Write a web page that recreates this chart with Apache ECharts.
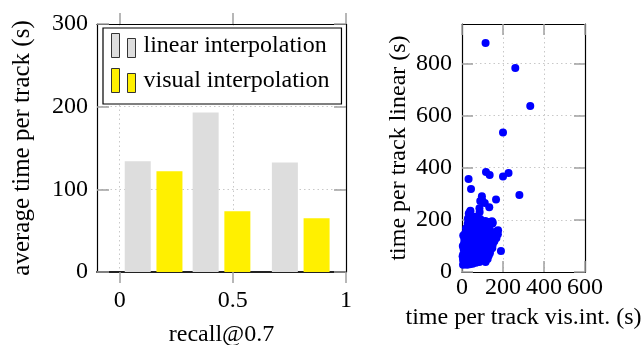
<!DOCTYPE html>
<html>
<head>
<meta charset="utf-8">
<script src="https://cdn.jsdelivr.net/npm/echarts@6/dist/echarts.min.js"></script>
<style>
html,body{margin:0;padding:0;background:#fff;}
#c{width:644px;height:345px;}
</style>
</head>
<body>
<div id="c"></div>
<script>
// ---- data ----
const groupX = [0.15, 0.45, 0.80];
const linearTimes = [134, 193, 132.5];
const visualTimes = [122, 73.5, 65];
const barXTicks = [0, 0.5, 1];
const barYTicks = [0, 100, 200, 300];
const scatterXTicks = [0, 200, 400, 600];
const scatterYTicks = [0, 200, 400, 600, 800];
const seriesNames = ['linear interpolation', 'visual interpolation'];
// scatter: [time per track vis.int., time per track linear]
const scatterVisInt = [
 115,260,333,200,32,44,117,135,200,227,280,166,97,89,111,85,133,41,190,115,
 5,10,15,20,25,30,38,45,52,60,68,75,85,8,18,28,
 5,12,22,32,42,50,58,66,78,88,96,105,120,130,
 6,14,24,34,44,54,62,72,82,92,100,110,122,136,140,
 8,18,28,38,48,58,68,78,90,102,114,126,138,148,
 10,20,30,40,52,64,74,86,96,108,120,132,146,158,
 12,24,36,48,60,72,84,98,110,124,138,152,168,
 15,26,38,50,62,76,90,104,118,134,150,164,175,
 20,32,46,58,72,86,100,116,132,148,150,163,176,
 28,40,55,68,80,96,112,130,146,114,
 29,33,41,36,49,73,78,89,60,40,98,86,
 3,4,6,12,105,125,150,155
];
const scatterLinear = [
 878,782,637,535,357,318,383,372,366,380,295,278,290,272,265,244,248,235,81,38,
 28,32,30,35,28,33,30,36,32,38,35,40,38,40,42,40,
 48,52,50,55,48,58,52,55,50,56,60,52,58,62,
 68,72,65,75,70,78,68,74,80,70,76,68,78,72,85,
 88,92,85,95,90,98,88,95,92,98,90,96,100,92,
 108,112,105,118,110,115,106,118,110,116,108,120,112,118,
 128,132,125,138,130,136,128,140,132,138,128,135,130,
 148,155,145,158,150,160,148,155,150,158,148,150,145,
 168,175,165,178,170,175,168,178,170,185,190,154,160,
 186,195,190,198,188,196,192,192,195,196,
 205,224,215,186,173,205,192,203,212,232,276,230,
 60,100,140,120,45,50,105,125
];
const scatterData = scatterVisInt.map((v, i) => [v, scatterLinear[i]]);

// ---- styles ----
const FONT = 'Liberation Serif';
const tickColor = '#a0a0a0';
const gridLine = {show: true, lineStyle: {color: '#c8c8c8', type: [1.5, 3], width: 1}};
const blackLine = {show: true, onZero: false, lineStyle: {color: '#000', width: 1.2}};
const lbl = {fontFamily: FONT, fontSize: 24, color: '#000'};

const chart = echarts.init(document.getElementById('c'), null, {renderer: 'canvas'});
chart.setOption({
  animation: false,
  backgroundColor: '#fff',
  grid: [
    {left: 97, top: 24, width: 249, height: 248, containLabel: false, outerBoundsMode: 'none'},
    {left: 462, top: 24, width: 123, height: 248, containLabel: false, outerBoundsMode: 'none'}
  ],
  legend: {
    data: seriesNames,
    orient: 'vertical',
    left: 103, top: 28,
    padding: [5, 12, 11, 8],
    itemGap: 10,
    itemWidth: 24, itemHeight: 24,
    icon: 'path://M0,0h8v24h-8z M16,5h8v19h-8z',
    itemStyle: {borderColor: '#333', borderWidth: 1},
    borderColor: '#000', borderWidth: 1.2,
    backgroundColor: '#fff',
    textStyle: Object.assign({padding: [5, 0, 0, 3]}, lbl)
  },
  xAxis: [
    {
      type: 'value', gridIndex: 0, min: -0.1, max: 1, position: 'bottom',
      name: 'recall@0.7', nameLocation: 'middle', nameGap: 51, nameTextStyle: lbl,
      axisLine: {show: true, onZero: false, lineStyle: {color: '#222', width: 1.8}},
      axisTick: {show: true, inside: false, length: 11, customValues: barXTicks, lineStyle: {color: tickColor, width: 1.5}},
      axisLabel: Object.assign({margin: 17, customValues: barXTicks}, lbl),
      splitLine: gridLine
    },
    {
      type: 'value', gridIndex: 0, min: -0.1, max: 1, position: 'top',
      axisLine: blackLine,
      axisTick: {show: true, inside: false, length: 11, customValues: barXTicks, lineStyle: {color: tickColor, width: 1.5}},
      axisLabel: {show: false, customValues: barXTicks},
      splitLine: {show: false}
    },
    {
      type: 'value', gridIndex: 1, min: 0, max: 600, position: 'bottom',
      name: 'time per track vis.int. (s)', nameLocation: 'middle', nameGap: 34, nameTextStyle: lbl,
      axisLine: blackLine,
      axisTick: {show: true, inside: true, length: 11, customValues: scatterXTicks, lineStyle: {color: tickColor, width: 1.5}},
      axisLabel: Object.assign({margin: 4, customValues: scatterXTicks, hideOverlap: false}, lbl),
      splitLine: gridLine
    },
    {
      type: 'value', gridIndex: 1, min: 0, max: 600, position: 'top',
      axisLine: blackLine,
      axisTick: {show: true, inside: true, length: 11, customValues: scatterXTicks, lineStyle: {color: tickColor, width: 1.5}},
      axisLabel: {show: false, customValues: scatterXTicks},
      splitLine: {show: false}
    }
  ],
  yAxis: [
    {
      type: 'value', gridIndex: 0, min: 0, max: 300, position: 'left',
      name: 'average time per track (s)', nameLocation: 'middle', nameGap: 62,
      nameTextStyle: Object.assign({}, lbl, {fontSize: 25}),
      axisLine: blackLine,
      axisTick: {show: true, inside: true, length: 12, customValues: barYTicks, lineStyle: {color: tickColor, width: 1.5}},
      axisLabel: Object.assign({margin: 9, customValues: barYTicks}, lbl),
      splitLine: gridLine
    },
    {
      type: 'value', gridIndex: 0, min: 0, max: 300, position: 'right',
      axisLine: blackLine,
      axisTick: {show: true, inside: true, length: 12, customValues: barYTicks, lineStyle: {color: tickColor, width: 1.5}},
      axisLabel: {show: false, customValues: barYTicks},
      splitLine: {show: false}
    },
    {
      type: 'value', gridIndex: 1, min: 0, max: 951, position: 'left',
      name: 'time per track linear (s)', nameLocation: 'middle', nameGap: 51, nameTextStyle: lbl,
      axisLine: blackLine,
      axisTick: {show: true, inside: true, length: 11, customValues: scatterYTicks, lineStyle: {color: tickColor, width: 1.5}},
      axisLabel: Object.assign({margin: 10, customValues: scatterYTicks}, lbl),
      splitLine: gridLine
    },
    {
      type: 'value', gridIndex: 1, min: 0, max: 951, position: 'right',
      axisLine: blackLine,
      axisTick: {show: true, inside: true, length: 11, customValues: scatterYTicks, lineStyle: {color: tickColor, width: 1.5}},
      axisLabel: {show: false, customValues: scatterYTicks},
      splitLine: {show: false}
    }
  ],
  series: [
    {
      name: seriesNames[0], type: 'bar', xAxisIndex: 0, yAxisIndex: 0,
      barWidth: 26, barGap: '22%',
      itemStyle: {color: '#dddddd'},
      data: groupX.map((x, i) => [x, linearTimes[i]])
    },
    {
      name: seriesNames[1], type: 'bar', xAxisIndex: 0, yAxisIndex: 0,
      barWidth: 26, barGap: '22%',
      itemStyle: {color: '#fff000'},
      data: groupX.map((x, i) => [x, visualTimes[i]])
    },
    {
      name: 'tracks', type: 'scatter', xAxisIndex: 2, yAxisIndex: 2,
      symbolSize: 8,
      itemStyle: {color: '#0000ff', opacity: 1},
      data: scatterData
    }
  ]
});
</script>
</body>
</html>
